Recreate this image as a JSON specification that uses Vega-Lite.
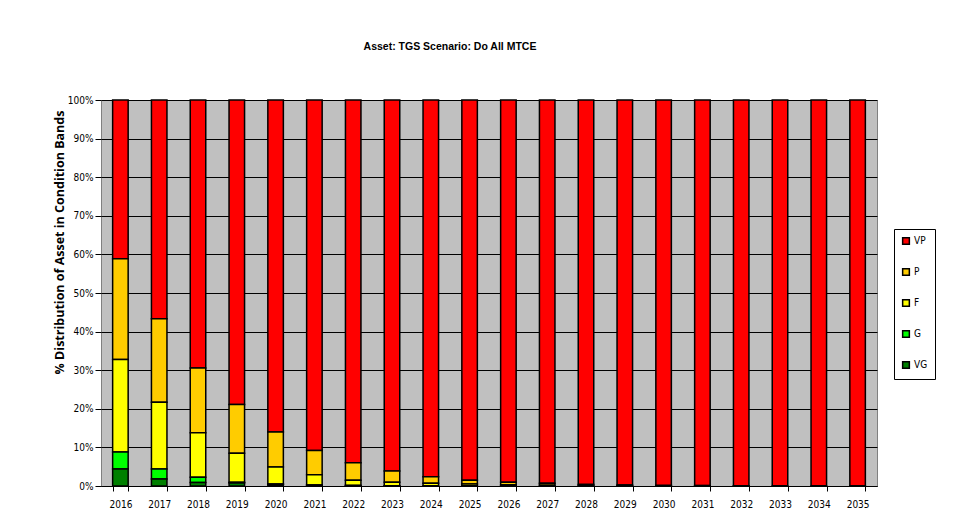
{
  "$schema": "https://vega.github.io/schema/vega-lite/v6.json",
  "autosize": {"type": "none"},
  "padding": {"left": 101, "top": 100, "right": 87, "bottom": 40},
  "width": 776,
  "height": 386,
  "background": "white",
  "title": {
    "text": "Asset: TGS Scenario: Do All MTCE",
    "font": "Liberation Sans",
    "fontSize": 10.5,
    "fontWeight": "bold",
    "color": "black",
    "anchor": "middle",
    "dx": -39,
    "offset": 43
  },
  "data": {
    "values": [
      {"year": "2016", "VG": 4.4, "G": 4.4, "F": 24.0, "P": 26.1, "VP": 41.1},
      {"year": "2017", "VG": 1.8, "G": 2.6, "F": 17.3, "P": 21.6, "VP": 56.7},
      {"year": "2018", "VG": 0.9, "G": 1.35, "F": 11.55, "P": 16.8, "VP": 69.4},
      {"year": "2019", "VG": 0.8, "G": 0.15, "F": 7.55, "P": 12.6, "VP": 78.9},
      {"year": "2020", "VG": 0.4, "G": 0.1, "F": 4.4, "P": 9.1, "VP": 86.0},
      {"year": "2021", "VG": 0.2, "G": 0.05, "F": 2.65, "P": 6.3, "VP": 90.8},
      {"year": "2022", "VG": 0.1, "G": 0.02, "F": 1.38, "P": 4.5, "VP": 94.0},
      {"year": "2023", "VG": 0.05, "G": 0.01, "F": 0.94, "P": 2.9, "VP": 96.1},
      {"year": "2024", "VG": 0.03, "G": 0, "F": 0.67, "P": 1.7, "VP": 97.6},
      {"year": "2025", "VG": 0.02, "G": 0, "F": 0.48, "P": 1.0, "VP": 98.5},
      {"year": "2026", "VG": 0.01, "G": 0, "F": 0.29, "P": 0.7, "VP": 99.0},
      {"year": "2027", "VG": 0, "G": 0, "F": 0.2, "P": 0.5, "VP": 99.3},
      {"year": "2028", "VG": 0, "G": 0, "F": 0.1, "P": 0.3, "VP": 99.6},
      {"year": "2029", "VG": 0, "G": 0, "F": 0.05, "P": 0.2, "VP": 99.75},
      {"year": "2030", "VG": 0, "G": 0, "F": 0.03, "P": 0.12, "VP": 99.85},
      {"year": "2031", "VG": 0, "G": 0, "F": 0.02, "P": 0.08, "VP": 99.9},
      {"year": "2032", "VG": 0, "G": 0, "F": 0.01, "P": 0.05, "VP": 99.94},
      {"year": "2033", "VG": 0, "G": 0, "F": 0, "P": 0.03, "VP": 99.97},
      {"year": "2034", "VG": 0, "G": 0, "F": 0, "P": 0.02, "VP": 99.98},
      {"year": "2035", "VG": 0, "G": 0, "F": 0, "P": 0.01, "VP": 99.99}
    ]
  },
  "transform": [
    {"fold": ["VP", "P", "F", "G", "VG"], "as": ["band", "pct"]},
    {"calculate": "indexof(['VG','G','F','P','VP'], datum.band)", "as": "stackRank"}
  ],
  "mark": {"type": "bar", "stroke": "black", "strokeWidth": 1.5},
  "encoding": {
    "x": {
      "field": "year",
      "type": "nominal",
      "sort": null,
      "scale": {"paddingInner": 0.6, "paddingOuter": 0.3},
      "axis": {
        "title": null,
        "labelAngle": 0,
        "labelFont": "DejaVu Sans Condensed, Liberation Sans",
        "labelFontSize": 10,
        "labelColor": "black",
        "labelPadding": 8,
        "tickBand": "extent",
        "tickColor": "black",
        "tickSize": 5,
        "domainColor": "black",
        "domainWidth": 1
      }
    },
    "y": {
      "field": "pct",
      "type": "quantitative",
      "stack": "zero",
      "scale": {"domain": [0, 100]},
      "axis": {
        "title": "% Distribution of Asset in Condition Bands",
        "titleFont": "Open Sans",
        "titleFontSize": 12.5,
        "titleFontWeight": "bold",
        "titleColor": "black",
        "titleY": 142,
        "titlePadding": 1,
        "values": [0, 10, 20, 30, 40, 50, 60, 70, 80, 90, 100],
        "labelExpr": "datum.value + '%'",
        "labelFont": "DejaVu Sans Condensed, Liberation Sans",
        "labelFontSize": 10,
        "labelColor": "black",
        "labelPadding": 2,
        "tickColor": "black",
        "tickSize": 6,
        "grid": true,
        "gridColor": "black",
        "gridWidth": 1,
        "gridOpacity": 1,
        "domain": false
      }
    },
    "color": {
      "field": "band",
      "type": "nominal",
      "scale": {
        "domain": ["VP", "P", "F", "G", "VG"],
        "range": ["#FF0000", "#FFCC00", "#FFFF00", "#00FF00", "#008000"]
      },
      "legend": {
        "title": null,
        "orient": "none",
        "legendX": 793,
        "legendY": 129,
        "strokeColor": "black",
        "fillColor": "white",
        "padding": 7,
        "symbolType": "square",
        "symbolSize": 45,
        "symbolStrokeColor": "black",
        "symbolStrokeWidth": 1.5,
        "labelFont": "DejaVu Sans Condensed, Liberation Sans",
        "labelFontSize": 10,
        "labelColor": "black",
        "labelOffset": 3,
        "rowPadding": 17
      }
    },
    "order": {"field": "stackRank", "type": "quantitative"}
  },
  "config": {
    "view": {"fill": "#C0C0C0", "stroke": "#808080", "strokeWidth": 1}
  }
}
